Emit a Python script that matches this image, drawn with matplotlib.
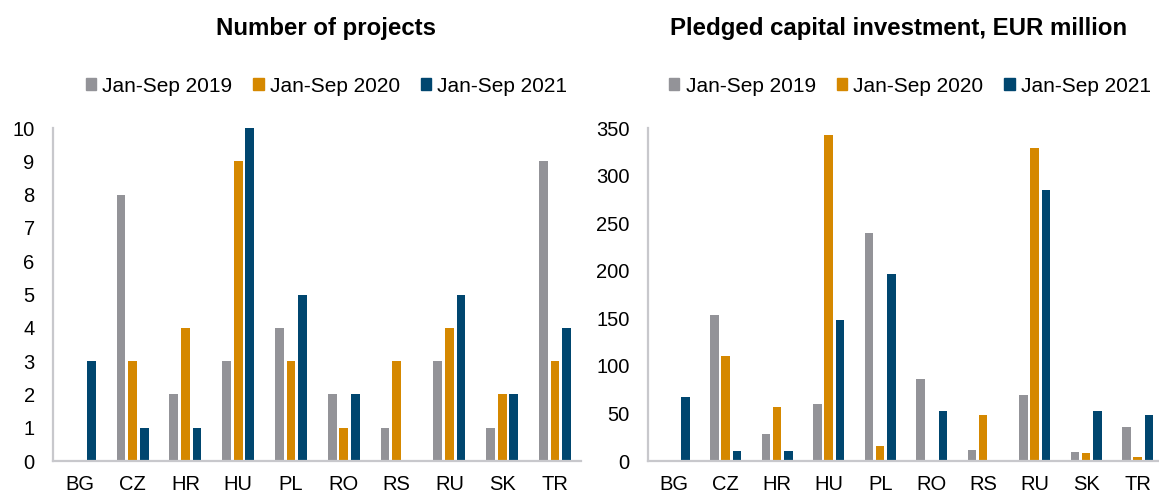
import numpy as np
import matplotlib
matplotlib.use("Agg")
import matplotlib.pyplot as plt
from matplotlib.patches import Patch

plt.rcParams["font.family"] = ["Liberation Sans", "DejaVu Sans"]

countries = ["BG", "CZ", "HR", "HU", "PL", "RO", "RS", "RU", "SK", "TR"]
series_names = ["Jan-Sep 2019", "Jan-Sep 2020", "Jan-Sep 2021"]

projects_2019 = [0, 8, 2, 3, 4, 2, 1, 3, 1, 9]
projects_2020 = [0, 3, 4, 9, 3, 1, 3, 4, 2, 3]
projects_2021 = [3, 1, 1, 10, 5, 2, 0, 5, 2, 4]

capital_2019 = [0, 153.5, 28, 59.7, 239.3, 86.4, 11.2, 69.2, 9.5, 35.5]
capital_2020 = [0, 110.7, 56.6, 342.6, 16.2, 1.0, 48.8, 328.5, 8.4, 4.2]
capital_2021 = [67.5, 10.2, 10, 148.6, 196.8, 52.4, 0, 284.6, 52.4, 48.1]

colors = ["#939398", "#D58800", "#00466F"]

fig = plt.figure(figsize=(11.59, 4.94), dpi=100)
W, H = 1159, 494


def draw(ax, data, ymax, yticks, xright):
    x = np.arange(len(countries))
    step = 0.22
    width = 0.165
    for i, vals in enumerate(data):
        ax.bar(x + (i - 1) * step, vals, width=width, color=colors[i], zorder=2)
    ax.set_xlim(-0.5, xright)
    ax.set_ylim(0, ymax)
    ax.set_yticks(yticks)
    ax.set_xticks(x)
    ax.set_xticklabels(countries)
    for s in ["top", "right"]:
        ax.spines[s].set_visible(False)
    for s in ["left", "bottom"]:
        ax.spines[s].set_color("#C8C8CC")
        ax.spines[s].set_linewidth(1.6)
    ax.tick_params(axis="both", length=0, labelsize=14.5, colors="black")
    ax.tick_params(axis="x", pad=10)
    ax.tick_params(axis="y", pad=13.5)


bottom = 1 - 461 / H
height = (461 - 128) / H

ax1 = fig.add_axes([53.4 / W, bottom, (581.4 - 53.4) / W, height])
draw(ax1, [projects_2019, projects_2020, projects_2021], 10, range(0, 11), 9.5)

ax2 = fig.add_axes([648.4 / W, bottom, (W - 648.4) / W, height])
draw(ax2, [capital_2019, capital_2020, capital_2021], 350, range(0, 351, 50),
     -0.5 + (W - 648.4) / 51.5)

fig.text(326 / W, 1 - 29 / H, "Number of projects", ha="center", va="center",
         fontsize=17.3, fontweight="bold")
fig.text(899 / W, 1 - 29 / H, "Pledged capital investment, EUR million",
         ha="center", va="center", fontsize=17.3, fontweight="bold")

handles = [Patch(color=c) for c in colors]
for cx in (326.5, 910):
    fig.legend(handles, series_names, loc="center", bbox_to_anchor=(cx / W, 1 - 86 / H),
               ncol=3, frameon=False, fontsize=15, handlelength=0.5, handleheight=0.5,
               handletextpad=0.3, columnspacing=1.0, borderpad=0)

fig.savefig("out.png", dpi=100)
